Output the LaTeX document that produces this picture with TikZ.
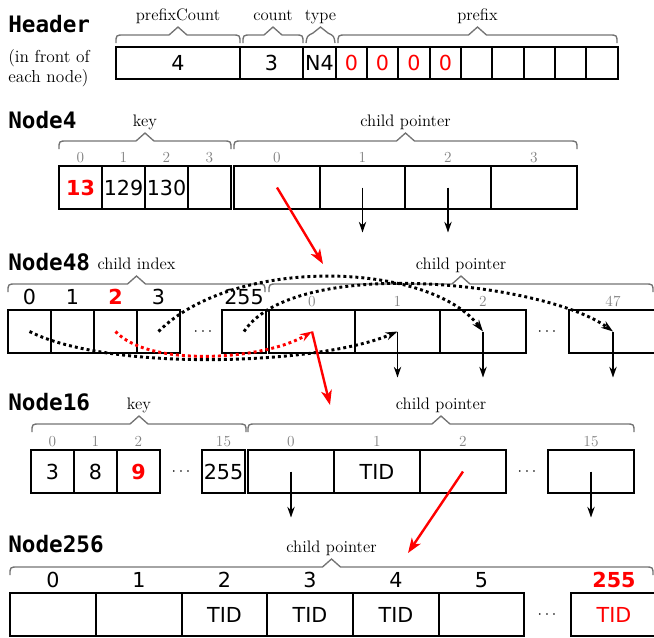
\documentclass[tikz,border=0pt]{standalone}
\usepackage{fontspec}
\newfontfamily\titlefont{DejaVu Sans Mono}
\newfontfamily\valfont{DejaVu Sans}
\usetikzlibrary{arrows.meta}
\newcommand\redtxt[1]{\textcolor{red}{#1}}
\newcommand\redbf[1]{\textcolor{red}{\bfseries #1}}
\tikzset{
  cellst/.style={draw=black, line width=1.2pt, inner sep=0pt, outer sep=0pt,
    font=\valfont\fontsize{15.5}{18}\selectfont},
  gidxst/.style={text=black!50, font=\fontsize{11.5}{13}\selectfont, anchor=base, inner sep=0pt},
  bidxst/.style={font=\valfont\fontsize{15.5}{18}\selectfont, anchor=base, inner sep=0pt},
  lblst/.style={font=\fontsize{12.5}{14}\selectfont, anchor=base, inner sep=0pt},
  titlest/.style={font=\titlefont\bfseries\fontsize{17}{20}\selectfont, anchor=base west, inner sep=0pt},
  notest/.style={font=\fontsize{13}{15}\selectfont, anchor=base west, inner sep=0pt},
  bracest/.style={draw=black!55, line width=1pt},
  dotsst/.style={font=\fontsize{12}{14}\selectfont, inner sep=0pt},
  downarr/.style={-{Stealth[length=8pt,width=5.5pt,inset=2.5pt]}, line width=1.1pt},
  redarr/.style={-{Stealth[length=11pt,width=8pt,inset=3pt]}, draw=red, line width=1.8pt},
  dotline/.style={-{Stealth[length=9pt,width=6pt,inset=3pt]}, line width=2.2pt, dash pattern=on 2.2pt off 2.3pt},
}
% name, x1, x2, y1, y2, text
\newcommand\mkcell[6]{\node[cellst, minimum width={(#3-#2)*0.75pt}, minimum height={(#5-#4)*0.75pt}] (#1) at ({(#2+#3)/2},{(#4+#5)/2}) {#6};}
\newcommand\gidx[3]{\node[gidxst] (#1) at ([yshift=2.3pt]#2.north) {#3};}
\newcommand\bidx[4]{\node[bidxst] (#1) at ([yshift=#4]#2.north) {#3};}
% name, x1, x2, y, label
\newcommand\mkbrace[5]{%
  \draw[bracest] (#2,#4+8) .. controls (#2,#4) .. (#2+8,#4) -- ({(#2+#3)/2-9},#4) -- ({(#2+#3)/2},#4-8) -- ({(#2+#3)/2+9},#4) -- (#3-8,#4) .. controls (#3,#4) .. (#3,#4+8);
  \node[lblst] (#1) at ({(#2+#3)/2},#4-15) {#5};}
\begin{document}
\begin{tikzpicture}[x=0.75pt,y=-0.75pt]
\useasboundingbox (0,0) rectangle (654,637);

% ---------------- Header
\node[titlest] (thead) at (8,32) {Header};
\node[notest] (note1) at (8,62) {(in front of};
\node[notest] (note2) at (8,82) {each node)};
\mkcell{h0}{116}{240}{47}{79}{4}
\mkcell{h1}{240}{303}{47}{79}{3}
\mkcell{h2}{303}{336}{47}{79}{N4}
\mkcell{h3}{336}{367}{47}{79}{\redtxt{0}}
\mkcell{h4}{367}{398}{47}{79}{\redtxt{0}}
\mkcell{h5}{398}{430}{47}{79}{\redtxt{0}}
\mkcell{h6}{430}{461}{47}{79}{\redtxt{0}}
\mkcell{h7}{461}{492}{47}{79}{}
\mkcell{h8}{492}{524}{47}{79}{}
\mkcell{h9}{524}{555}{47}{79}{}
\mkcell{h10}{555}{586}{47}{79}{}
\mkcell{h11}{586}{618}{47}{79}{}
\mkbrace{lpc}{116}{240}{35}{prefixCount}
\mkbrace{lcnt}{243}{303}{35}{count}
\draw[bracest] (306,43) .. controls (307,36) .. (313,33) -- (320.5,27) -- (328,33) .. controls (334,36) .. (335,43);
\node[lblst] (ltype) at (320.5,20) {type};
\mkbrace{lpre}{338}{617}{35}{prefix}

% ---------------- Node4
\node[titlest] (tn4) at (8,128) {Node4};
\mkcell{nfk0}{59}{102}{166}{209}{\redbf{13}}
\mkcell{nfk1}{102}{145}{166}{209}{129}
\mkcell{nfk2}{145}{188}{166}{209}{130}
\mkcell{nfk3}{188}{231}{166}{209}{}
\mkcell{nfc0}{234}{320}{166}{209}{}
\mkcell{nfc1}{320}{405}{166}{209}{}
\mkcell{nfc2}{405}{491}{166}{209}{}
\mkcell{nfc3}{491}{577}{166}{209}{}
\gidx{nfi0}{nfk0}{0}\gidx{nfi1}{nfk1}{1}\gidx{nfi2}{nfk2}{2}\gidx{nfi3}{nfk3}{3}
\gidx{nfj0}{nfc0}{0}\gidx{nfj1}{nfc1}{1}\gidx{nfj2}{nfc2}{2}\gidx{nfj3}{nfc3}{3}
\mkbrace{lnfk}{59}{231}{141}{key}
\mkbrace{lnfc}{234}{577}{141}{child pointer}

% ---------------- Node48
\node[titlest] (tn48) at (8,270) {Node48};
\mkcell{nek0}{8}{51}{310}{353}{}
\mkcell{nek1}{51}{94}{310}{353}{}
\mkcell{nek2}{94}{137}{310}{353}{}
\mkcell{nek3}{137}{180}{310}{353}{}
\node[dotsst] (nedk) at (203,331.5) {$\cdots$};
\mkcell{nek255}{222}{266}{310}{353}{}
\mkcell{nec0}{269}{355}{310}{353}{}
\mkcell{nec1}{355}{440}{310}{353}{}
\mkcell{nec2}{440}{526}{310}{353}{}
\node[dotsst] (nedc) at (547,331.5) {$\cdots$};
\mkcell{nec47}{569}{657}{310}{353}{}
\bidx{nei0}{nek0}{0}{3.8pt}\bidx{nei1}{nek1}{1}{3.8pt}\bidx{nei2}{nek2}{\redbf{2}}{3.8pt}
\bidx{nei3}{nek3}{3}{3.8pt}\bidx{nei255}{nek255}{255}{3.8pt}
\gidx{nej0}{nec0}{0}\gidx{nej1}{nec1}{1}\gidx{nej2}{nec2}{2}\gidx{nej47}{nec47}{47}
\mkbrace{lnek}{8}{265}{284}{child index}
\mkbrace{lnec}{269}{653}{284}{child pointer}

% ---------------- Node16
\node[titlest] (tn16) at (8,410) {Node16};
\mkcell{nsk0}{31}{74}{450}{493}{3}
\mkcell{nsk1}{74}{117}{450}{493}{8}
\mkcell{nsk2}{117}{160}{450}{493}{\redbf{9}}
\node[dotsst] (nsdk) at (181,472) {$\cdots$};
\mkcell{nsk15}{202}{245}{450}{493}{255}
\mkcell{nsc0}{248}{334}{450}{493}{}
\mkcell{nsc1}{334}{420}{450}{493}{TID}
\mkcell{nsc2}{420}{506}{450}{493}{}
\node[dotsst] (nsdc) at (527,472) {$\cdots$};
\mkcell{nsc15}{548}{634}{450}{493}{}
\gidx{nsi0}{nsk0}{0}\gidx{nsi1}{nsk1}{1}\gidx{nsi2}{nsk2}{2}\gidx{nsi15}{nsk15}{15}
\gidx{nsj0}{nsc0}{0}\gidx{nsj1}{nsc1}{1}\gidx{nsj2}{nsc2}{2}\gidx{nsj15}{nsc15}{15}
\mkbrace{lnsk}{32}{246}{424}{key}
\mkbrace{lnsc}{248}{634}{424}{child pointer}

% ---------------- Node256
\node[titlest] (tn256) at (8,552) {Node256};
\mkcell{ntc0}{10}{96}{593}{636}{}
\mkcell{ntc1}{96}{182}{593}{636}{}
\mkcell{ntc2}{182}{267}{593}{636}{TID}
\mkcell{ntc3}{267}{353}{593}{636}{TID}
\mkcell{ntc4}{353}{439}{593}{636}{TID}
\mkcell{ntc5}{439}{524}{593}{636}{}
\node[dotsst] (ntd) at (547,614.5) {$\cdots$};
\mkcell{ntc255}{571}{657}{593}{636}{\redtxt{TID}}
\bidx{nti0}{ntc0}{0}{4.5pt}\bidx{nti1}{ntc1}{1}{4.5pt}\bidx{nti2}{ntc2}{2}{4.5pt}
\bidx{nti3}{ntc3}{3}{4.5pt}\bidx{nti4}{ntc4}{4}{4.5pt}\bidx{nti5}{ntc5}{5}{4.5pt}
\bidx{nti255}{ntc255}{\redbf{255}}{4.5pt}
\mkbrace{lntc}{10}{653}{567}{child pointer}

% ---------------- connectors
\draw[downarr] (nfc1.center) -- ++(0,45);
\draw[downarr] (nfc2.center) -- ++(0,45);
\draw[downarr] (nec1.center) -- ++(0,46);
\draw[downarr] (nec2.center) -- ++(0,46);
\draw[downarr] (nec47.center) -- ++(0,46);
\draw[downarr] (nsc0.center) -- ++(0,46);
\draw[downarr] (nsc15.center) -- ++(0,46);

\draw[dotline] (nek0.center) .. controls (110,372) and (320,365) .. (nec1.center);
\draw[dotline] (nek3.center) .. controls (235,255) and (430,262) .. (nec2.center);
\draw[dotline] (nek255.center) .. controls (295,255) and (545,282) .. (nec47.center);
\draw[dotline, red] (nek2.center) .. controls (150,368) and (265,360) .. (nec0.center);

\coordinate (a48) at (323,264);
\coordinate (a16) at (330,405);
\coordinate (a256) at (408,553);
\draw[redarr] (nfc0.center) -- (a48);
\draw[redarr] (nec0.center) -- (a16);
\draw[redarr] (nsc2.center) -- (a256);
\end{tikzpicture}
\end{document}
